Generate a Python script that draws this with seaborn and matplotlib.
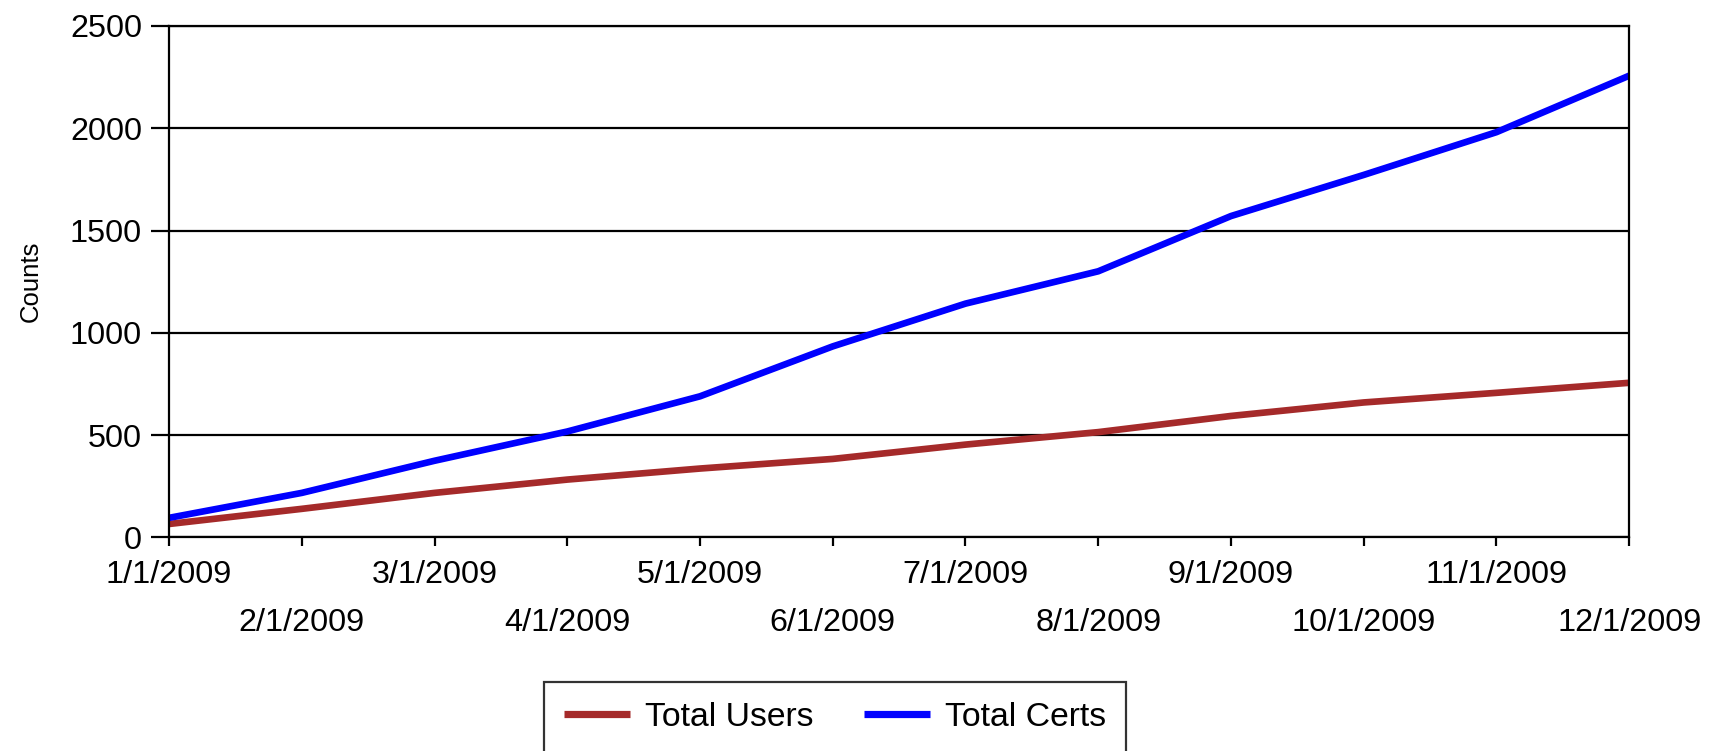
import matplotlib
matplotlib.use("Agg")
import matplotlib.pyplot as plt
import seaborn as sns
import pandas as pd
import numpy as np
from matplotlib.lines import Line2D

# ---- data ----
months = ["1/1/2009", "2/1/2009", "3/1/2009", "4/1/2009", "5/1/2009", "6/1/2009",
          "7/1/2009", "8/1/2009", "9/1/2009", "10/1/2009", "11/1/2009", "12/1/2009"]
total_users = [66, 140, 218, 283, 337, 384, 454, 515, 594, 660, 707, 756]
total_certs = [96, 218, 375, 518, 690, 934, 1143, 1301, 1571, 1772, 1981, 2257]
series_names = ["Total Users", "Total Certs"]
series_colors = {"Total Users": "#A52A2A", "Total Certs": "#0000FF"}
y_ticks = [0, 500, 1000, 1500, 2000, 2500]

df = pd.DataFrame({
    "Month": months * 2,
    "Count": total_users + total_certs,
    "Series": [series_names[0]] * len(months) + [series_names[1]] * len(months),
})

sns.set_style("white")
plt.rcParams["font.family"] = ["Liberation Sans", "DejaVu Sans"]
plt.rcParams["text.color"] = "black"
plt.rcParams["axes.labelcolor"] = "black"
plt.rcParams["xtick.color"] = "black"
plt.rcParams["ytick.color"] = "black"

fig = plt.figure(figsize=(17.18, 7.51), dpi=100)
ax = fig.add_axes([0.0984, 0.2843, 0.8499, 0.6811])

sns.lineplot(data=df, x="Month", y="Count", hue="Series", palette=series_colors,
             linewidth=4.8, sort=False, ax=ax, legend=False)

ax.set_xlim(0, len(months) - 1)
ax.set_ylim(0, 2500)
ax.set_yticks(y_ticks)
ax.set_xticks(range(len(months)))
ax.set_xticklabels(months)

ax.yaxis.grid(True, color="black", linewidth=1.6)
ax.xaxis.grid(False)
for s in ax.spines.values():
    s.set_visible(True)
    s.set_color("black")
    s.set_linewidth(1.6)

ax.tick_params(axis="y", length=13, width=1.6, pad=6.5, labelsize=23.3,
               direction="out", left=True, colors="black")
ax.tick_params(axis="x", length=6.5, width=1.6, labelsize=23.3,
               direction="out", bottom=True, colors="black")
for i, tick in enumerate(ax.xaxis.get_major_ticks()):
    tick.set_pad(10 if i % 2 == 0 else 44)

ax.set_xlabel("")
ax.set_ylabel("Counts", fontsize=18.5, color="black")
ax.yaxis.set_label_coords(-0.0945, 0.5)
ax.yaxis.label.set_va("center")

handles = [Line2D([0], [0], color=series_colors[n], linewidth=5.2,
                  solid_capstyle="butt") for n in series_names]
leg = ax.legend(handles, series_names, ncol=2, loc="upper center",
                bbox_to_anchor=(835 / 1718, 1 - 681.5 / 751),
                bbox_transform=fig.transFigure, frameon=True, fancybox=False,
                edgecolor="black", fontsize=24.3, handlelength=1.95,
                handletextpad=0.45, columnspacing=1.5, borderpad=0.6,
                borderaxespad=0)
leg.get_frame().set_linewidth(1.6)

fig.savefig("out.png", dpi=100, facecolor="white")
